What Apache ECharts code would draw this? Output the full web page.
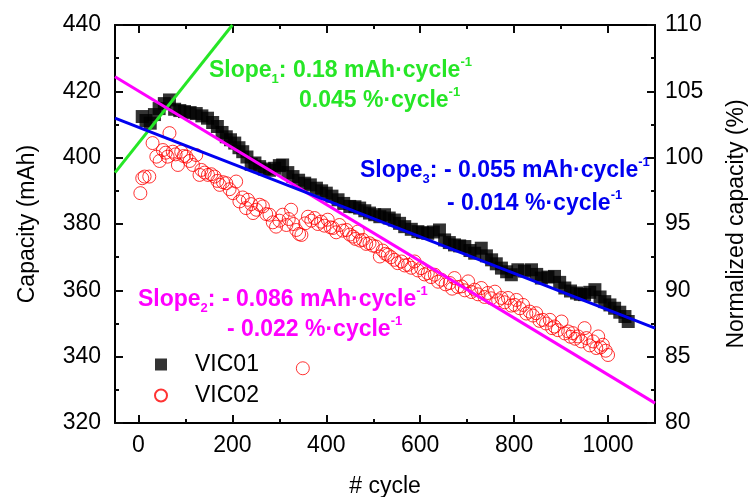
<!DOCTYPE html>
<html><head><meta charset="utf-8">
<script src="https://cdn.jsdelivr.net/npm/echarts@6/dist/echarts.min.js"></script>
<style>html,body{margin:0;padding:0;background:#fff}#c{width:748px;height:497px}</style>
</head><body><div id="c"></div>
<script>
// ---- tick labels ----
const xMajorTicks = [0, 200, 400, 600, 800, 1000];
const xMinorTicks = [100, 300, 500, 700, 900];

// ---- VIC01 (black squares) ----
const vic01Cycles = [8,16,25,34,44,55,66,77,88,98,110,123,135,147,158,168,178,187,196,205,214,222,231,240,248,258,268,279,290,300,307,318,329,341,354,366,379,390,400,412,425,437,450,461,471,482,492,503,514,524,534,545,556,567,581,595,605,616,628,641,652,662,673,684,695,706,716,730,741,752,762,773,784,794,808,822,837,848,858,872,886,897,908,920,933,941,950,961,972,983,993,1004,1014,1025,1036,1043];
const vic01Capacity = [412.4,411.2,410.4,413.0,414.8,416.3,417.4,414.6,414.2,413.9,413.6,413.3,412.6,411.9,410.6,409.4,407.6,406.3,405.4,404.4,403.0,401.8,400.2,398.0,398.4,397.3,396.6,396.2,396.8,397.6,397.8,395.5,394.3,393.2,392.3,391.8,390.8,390.0,389.3,388.4,387.3,386.2,385.3,385.2,384.8,384.0,383.3,382.8,382.2,382.8,381.8,381.2,380.2,379.2,378.4,377.7,377.4,377.2,377.6,378.2,375.2,374.4,373.7,373.4,373.2,372.0,371.2,372.7,370.4,369.2,368.0,366.7,365.6,364.7,366.2,365.8,366.2,364.8,363.7,364.0,364.2,362.4,360.7,359.8,359.2,358.8,358.7,359.4,360.2,358.0,356.6,355.6,354.6,353.4,352.1,350.6];

// ---- VIC02 (red open circles) ----
const vic02Cycles = [4,8,13,23,30,38,45,52,58,62,66,73,79,84,91,96,102,109,116,123,130,134,141,148,155,162,168,173,180,187,194,201,208,215,222,229,233,240,244,251,258,265,272,279,286,293,300,307,315,320,325,330,336,342,347,350,355,361,368,375,382,389,396,403,409,414,421,428,435,443,450,457,462,467,472,478,485,492,499,506,514,520,526,531,538,545,552,560,567,574,581,588,595,602,609,616,623,631,638,645,654,663,668,673,680,688,695,702,709,716,723,730,737,744,751,759,766,773,780,787,794,801,805,812,819,826,833,840,847,854,861,868,876,881,886,893,901,908,915,920,925,930,936,943,950,954,961,968,975,979,984,989,995,1000];
const vic02Capacity = [389.3,393.8,394.3,394.3,404.4,400.3,399.0,402.3,401.5,400.3,407.4,401.8,401.0,397.8,401.8,400.5,400.3,399.0,397.8,400.8,394.8,396.3,395.5,394.8,395.0,394.3,393.0,391.8,392.6,392.3,390.5,389.3,392.8,386.8,388.0,384.8,387.3,386.0,383.3,384.3,385.8,385.3,383.0,382.8,380.5,379.2,381.0,382.8,379.7,381.5,384.3,380.0,378.2,377.0,376.7,336.5,380.2,382.2,381.0,381.8,380.0,380.7,379.5,381.3,379.0,378.8,377.5,379.7,378.0,378.2,376.8,376.2,375.5,377.7,375.0,375.2,374.0,374.2,373.5,373.2,370.2,372.0,371.0,370.7,370.0,369.2,368.2,368.7,367.5,367.7,366.8,368.7,366.0,366.7,364.8,365.2,364.0,364.7,362.6,363.2,361.8,362.2,360.5,363.7,361.0,361.2,360.0,362.7,359.5,360.2,358.8,360.7,358.0,359.2,357.6,359.6,357.0,357.7,356.4,357.7,355.4,355.6,357.1,354.6,355.6,353.0,353.6,352.4,353.1,350.8,351.1,350.0,351.1,348.6,349.1,348.0,350.6,347.0,347.6,346.0,347.1,345.4,346.1,344.6,348.6,345.6,343.4,344.6,342.6,346.1,342.8,343.6,341.8,340.5];

// ---- fitted lines (end points) ----
const fit1Cycles = [-50, 200];   const fit1Capacity = [395.5, 440];
const fit2Cycles = [-50, 1100];  const fit2Capacity = [424.4, 326.0];
const fit3Cycles = [-50, 1100];  const fit3Capacity = [411.9, 348.6];

const GREEN = '#26e626', BLUE = '#0000f0', MAGENTA = '#ff00ff';
const FONT = 'Liberation Sans, Arial, sans-serif';
const TICK = '#0a0a0a';

const zip = (a, b) => a.map((v, i) => [v, b[i]]);

function richStyles(color) {
  const base = { fontFamily: FONT, fontWeight: 'bold', fill: color };
  return {
    m: Object.assign({}, base, { fontSize: 23, lineHeight: 30, verticalAlign: 'middle' }),
    sub: Object.assign({}, base, { fontSize: 13, lineHeight: 10, verticalAlign: 'bottom' }),
    sup: Object.assign({}, base, { fontSize: 13, lineHeight: 18, verticalAlign: 'top' })
  };
}
function label(x, y, text, color) {
  return { type: 'text', x: x, y: y, z: 100,
    style: { text: text, rich: richStyles(color), align: 'left', verticalAlign: 'middle' } };
}

const axisLineStyle = { color: '#000', width: 2 };
const labelStyle = { color: '#000', fontSize: 23, fontFamily: FONT };
const nameStyle = { color: '#000', fontSize: 23, fontFamily: FONT };
const fmt = v => String(v);
const tk = () => ({ color: TICK, width: 2 });

function xAx(opts) {
  return Object.assign({ type: 'value', min: -50, max: 1100, splitLine: { show: false },
    axisLine: { show: false }, axisLabel: { show: false }, axisTick: { show: false } }, opts);
}

const option = {
  animation: false,
  backgroundColor: '#fff',
  grid: { left: 115, right: 93, top: 25, bottom: 74, containLabel: false, outerBoundsMode: 'none' },
  xAxis: [
    xAx({ position: 'bottom', name: '# cycle', nameLocation: 'middle', nameGap: 52, nameTextStyle: nameStyle,
      axisLine: { show: true, onZero: false, lineStyle: axisLineStyle },
      axisTick: { show: true, inside: true, length: 8, lineStyle: tk(), customValues: xMajorTicks },
      axisLabel: { show: true, margin: 11, customValues: xMajorTicks, formatter: fmt, ...labelStyle } }),
    xAx({ position: 'bottom',
      axisTick: { show: true, inside: true, length: 4, lineStyle: tk(), customValues: xMinorTicks } }),
    xAx({ position: 'top',
      axisLine: { show: true, onZero: false, lineStyle: axisLineStyle },
      axisTick: { show: true, inside: true, length: 8, lineStyle: tk(), customValues: xMajorTicks } }),
    xAx({ position: 'top',
      axisTick: { show: true, inside: true, length: 4, lineStyle: tk(), customValues: xMinorTicks } })
  ],
  yAxis: [
    { type: 'value', position: 'left', min: 320, max: 440, interval: 20,
      name: 'Capacity (mAh)', nameLocation: 'middle', nameGap: 76, nameTextStyle: nameStyle,
      splitLine: { show: false },
      axisLine: { show: true, onZero: false, lineStyle: axisLineStyle },
      axisTick: { show: true, inside: true, length: 8, lineStyle: tk() },
      minorTick: { show: true, splitNumber: 2, length: 4, lineStyle: tk() },
      axisLabel: { margin: 14, formatter: fmt, ...labelStyle } },
    { type: 'value', position: 'right', min: 80, max: 110, interval: 5,
      name: 'Normalized capacity (%)', nameLocation: 'middle', nameRotate: 90, nameGap: 70, nameTextStyle: nameStyle,
      splitLine: { show: false },
      axisLine: { show: true, onZero: false, lineStyle: axisLineStyle },
      axisTick: { show: true, inside: true, length: 8, lineStyle: tk() },
      minorTick: { show: true, splitNumber: 2, length: 4, lineStyle: tk() },
      axisLabel: { margin: 10, formatter: fmt, ...labelStyle } }
  ],
  legend: {
    orient: 'vertical', left: 149, top: 348, itemWidth: 12, itemHeight: 12, itemGap: 8,
    data: ['VIC01', 'VIC02'],
    textStyle: { color: '#000', fontSize: 23, fontFamily: FONT, padding: [0, 0, 0, 23] }
  },
  series: [
    { name: 'VIC01', type: 'scatter', xAxisIndex: 0, yAxisIndex: 0, symbol: 'rect', symbolSize: 13,
      itemStyle: { color: '#000' }, data: zip(vic01Cycles, vic01Capacity), z: 2 },
    { name: 'VIC02', type: 'scatter', xAxisIndex: 0, yAxisIndex: 0, symbol: 'circle', symbolSize: 13,
      itemStyle: { color: 'rgba(255,255,255,0)', borderColor: '#ff0000', borderWidth: 1 },
      data: zip(vic02Cycles, vic02Capacity), z: 3 },
    { name: 'fit1', type: 'line', xAxisIndex: 0, yAxisIndex: 0, symbol: 'none', z: 5,
      lineStyle: { color: GREEN, width: 3 }, itemStyle: { color: GREEN }, data: zip(fit1Cycles, fit1Capacity) },
    { name: 'fit2', type: 'line', xAxisIndex: 0, yAxisIndex: 0, symbol: 'none', z: 5,
      lineStyle: { color: MAGENTA, width: 3 }, itemStyle: { color: MAGENTA }, data: zip(fit2Cycles, fit2Capacity) },
    { name: 'fit3', type: 'line', xAxisIndex: 0, yAxisIndex: 0, symbol: 'none', z: 5,
      lineStyle: { color: BLUE, width: 3 }, itemStyle: { color: BLUE }, data: zip(fit3Cycles, fit3Capacity) }
  ],
  graphic: [
    label(209, 71, '{m|Slope}{sub|1}{m|: 0.18 mAh·cycle}{sup|-1}', GREEN),
    label(299, 101, '{m|0.045 %·cycle}{sup|-1}', GREEN),
    label(360, 171, '{m|Slope}{sub|3}{m|: - 0.055 mAh·cycle}{sup|-1}', BLUE),
    label(447, 204, '{m|- 0.014 %·cycle}{sup|-1}', BLUE),
    label(138, 300, '{m|Slope}{sub|2}{m|: - 0.086 mAh·cycle}{sup|-1}', MAGENTA),
    label(227, 330, '{m|- 0.022 %·cycle}{sup|-1}', MAGENTA)
  ]
};

const chart = echarts.init(document.getElementById('c'), null, { renderer: 'canvas' });
chart.setOption(option);
</script>
</body></html>
